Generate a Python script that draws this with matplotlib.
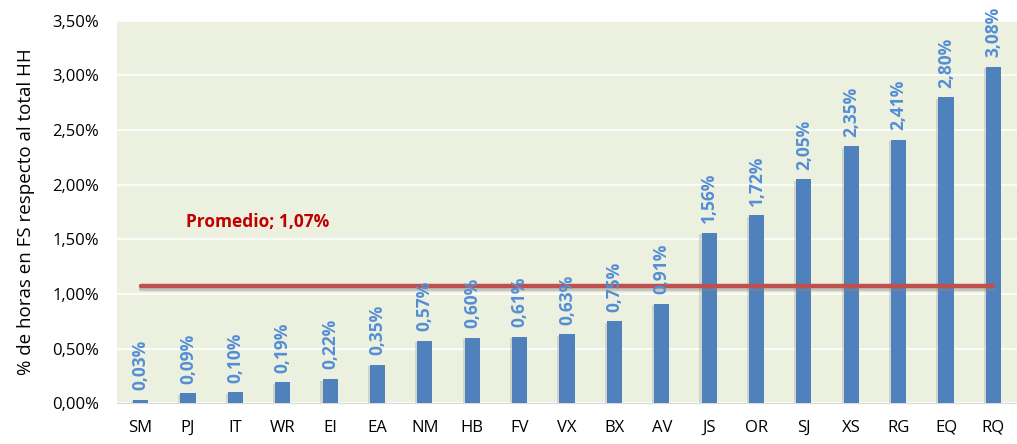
import numpy as np
import matplotlib.pyplot as plt
import matplotlib.patheffects as pe

# Datos
categorias = ["SM", "PJ", "IT", "WR", "EI", "EA", "NM", "HB", "FV", "VX",
              "BX", "AV", "JS", "OR", "SJ", "XS", "RG", "EQ", "RQ"]
valores = [0.03, 0.09, 0.10, 0.19, 0.22, 0.35, 0.57, 0.60, 0.61, 0.63,
           0.75, 0.91, 1.56, 1.72, 2.05, 2.35, 2.41, 2.80, 3.08]
promedio = 1.07
yticks = [0.0, 0.5, 1.0, 1.5, 2.0, 2.5, 3.0, 3.5]

plt.rcParams['font.family'] = ['Open Sans', 'DejaVu Sans']

fig = plt.figure(figsize=(10.17, 4.44), dpi=100)
ax = fig.add_axes([0.115, 0.092, 0.885, 0.861])
ax.set_facecolor('#ebf0df')

x = np.arange(len(categorias))
sombra = [pe.SimplePatchShadow(offset=(-1.5, -1), shadow_rgbFace='#a0a0a0', alpha=0.35), pe.Normal()]
bars = ax.bar(x, valores, width=0.32, color='#4f81bd', zorder=3, path_effects=sombra)

for xi, v in zip(x, valores):
    ax.annotate('{:.2f}%'.format(v).replace('.', ','), (xi, v), xytext=(0, 7),
                textcoords='offset points', rotation=90, ha='center', va='bottom',
                color='#558ed5', fontsize=12.5, fontweight='bold', zorder=5)

ax.plot([x[0], x[-1]], [promedio, promedio], color='#c0504d', lw=3.2, zorder=4,
        solid_capstyle='round',
        path_effects=[pe.SimpleLineShadow(offset=(0, -2), shadow_color='#888888', alpha=0.4), pe.Normal()])
ax.text(0.95, 1.66, 'Promedio; 1,07%', color='#c00000', fontsize=12.5, fontweight='bold',
        ha='left', va='center', zorder=5)

ax.set_xlim(-0.5, len(categorias) - 0.5)
ax.set_ylim(0, 3.5)
ax.set_yticks(yticks)
ax.set_yticklabels(['{:.2f}%'.format(t).replace('.', ',') for t in yticks], fontsize=12)
ax.set_xticks(x)
ax.set_xticklabels(categorias, fontsize=12)
ax.tick_params(axis='y', length=0, pad=13)
ax.tick_params(axis='x', length=0, pad=12)
ax.grid(axis='y', color='white', lw=1.2, zorder=0)
ax.set_axisbelow(True)
for s in ['top', 'right', 'left']:
    ax.spines[s].set_visible(False)
ax.spines['bottom'].set_color('#d9d9d9')
ax.set_ylabel('% de horas en FS respecto al total HH', fontsize=13.5, labelpad=12)

fig.savefig('out.png', dpi=100)
